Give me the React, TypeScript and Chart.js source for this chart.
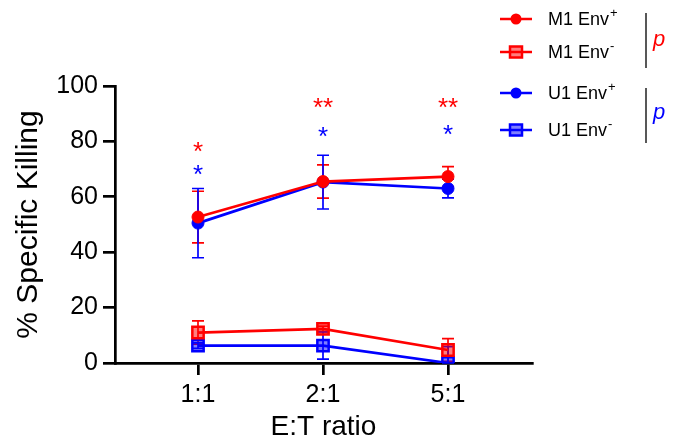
import React, { useEffect, useRef } from "react";
import { Chart, registerables } from "chart.js";
Chart.register(...registerables);

const categories = ["1:1", "2:1", "5:1"];
const m1Pos = [52.7, 65.5, 67.3];
const m1PosErr = [9.3, 6, 3.6];
const m1Neg = [11, 12.3, 4.7];
const m1NegErr = [4.2, 1, 4.1];
const u1Pos = [50.5, 65.3, 63];
const u1PosErr = [12.5, 9.7, 3.4];
const u1Neg = [6.3, 6.3, 0];
const u1NegErr = [1, 4.9, 5.9];
const m1Stars = ["*", "**", "**"];
const m1StarY = [78.7, 94.6, 94.6];
const u1Stars = ["*", "*", "*"];
const u1StarY = [70.4, 84, 85];
const yTicks = [0, 20, 40, 60, 80, 100];

const RED = "#ff0000";
const BLUE = "#0000ff";
const RED_FILL = "rgba(255,0,0,0.5)";
const BLUE_FILL = "rgba(0,0,255,0.5)";
const FONT = "'Liberation Sans', Arial, sans-serif";

export default function App() {
  const ref = useRef<HTMLCanvasElement>(null);
  useEffect(() => {
    const mk = (label: string, vals: number[], err: number[], color: string, square: boolean) => ({
      label,
      data: vals.map((v, i) => ({ x: i, y: v })),
      err,
      borderColor: color,
      backgroundColor: square ? (color === RED ? RED_FILL : BLUE_FILL) : color,
      pointBorderColor: color,
      pointStyle: square ? "rect" : "circle",
      pointRadius: square ? 8 : 6,
      pointBorderWidth: square ? 2.5 : 1,
      borderWidth: 2.7,
      showLine: true,
      tension: 0,
    });
    const errPlugin = {
      id: "err",
      beforeDatasetsDraw(chart: any) {
        const ctx = chart.ctx;
        const xs = chart.scales.x, ys = chart.scales.y;
        chart.data.datasets.forEach((ds: any) => {
          ctx.save();
          ctx.strokeStyle = ds.borderColor;
          ctx.lineWidth = 1.7;
          ds.data.forEach((p: any, i: number) => {
            const x = xs.getPixelForValue(p.x);
            const yt = ys.getPixelForValue(p.y + ds.err[i]);
            const yb = ys.getPixelForValue(Math.max(0, p.y - ds.err[i]));
            ctx.beginPath();
            ctx.moveTo(x, yt); ctx.lineTo(x, yb);
            ctx.moveTo(x - 6, yt); ctx.lineTo(x + 6, yt);
            ctx.moveTo(x - 6, yb); ctx.lineTo(x + 6, yb);
            ctx.stroke();
          });
          ctx.restore();
        });
      },
      afterDraw(chart: any) {
        const ctx = chart.ctx;
        const xs = chart.scales.x, ys = chart.scales.y;
        ctx.save();
        ctx.font = `26px ${FONT}`;
        ctx.textAlign = "center";
        ctx.textBaseline = "alphabetic";
        const drawStars = (arr: string[], ypos: number[], color: string) => {
          ctx.fillStyle = color;
          arr.forEach((s, i) => {
            const x = xs.getPixelForValue(i);
            const y = ys.getPixelForValue(ypos[i]);
            ctx.fillText(s, x, y + 15);
          });
        };
        drawStars(m1Stars, m1StarY, RED);
        drawStars(u1Stars, u1StarY, BLUE);
        // legend
        const items = [
          { t: "M1 Env", s: "+", c: RED, sq: false, y: 19 },
          { t: "M1 Env", s: "-", c: RED, sq: true, y: 52 },
          { t: "U1 Env", s: "+", c: BLUE, sq: false, y: 93 },
          { t: "U1 Env", s: "-", c: BLUE, sq: true, y: 130 },
        ];
        items.forEach((it) => {
          ctx.strokeStyle = it.c;
          ctx.lineWidth = 2.5;
          ctx.beginPath();
          ctx.moveTo(500, it.y); ctx.lineTo(532, it.y);
          ctx.stroke();
          if (it.sq) {
            ctx.fillStyle = it.c === RED ? RED_FILL : BLUE_FILL;
            ctx.fillRect(510, it.y - 5.5, 12, 11);
            ctx.strokeRect(510, it.y - 5.5, 12, 11);
          } else {
            ctx.fillStyle = it.c;
            ctx.beginPath();
            ctx.arc(516, it.y, 5.5, 0, Math.PI * 2);
            ctx.fill();
          }
          ctx.fillStyle = "#000";
          ctx.textAlign = "left";
          ctx.textBaseline = "middle";
          ctx.font = `18px ${FONT}`;
          ctx.fillText(it.t, 548, it.y + 1);
          const w = ctx.measureText(it.t).width;
          ctx.font = `13px ${FONT}`;
          ctx.fillText(it.s, 548 + w + 1, it.y - 6);
        });
        ctx.strokeStyle = "#222";
        ctx.lineWidth = 1.5;
        ctx.beginPath();
        ctx.moveTo(646, 13); ctx.lineTo(646, 68);
        ctx.moveTo(646, 88); ctx.lineTo(646, 143);
        ctx.stroke();
        ctx.font = `italic 22px ${FONT}`;
        ctx.textAlign = "left";
        ctx.textBaseline = "middle";
        ctx.fillStyle = RED;
        ctx.fillText("p", 653, 40);
        ctx.fillStyle = BLUE;
        ctx.fillText("p", 653, 113);
        ctx.restore();
      },
    };
    const chart = new Chart(ref.current!, {
      type: "scatter",
      data: {
        datasets: [
          mk("M1 Env+", m1Pos, m1PosErr, RED, false),
          mk("M1 Env-", m1Neg, m1NegErr, RED, true),
          mk("U1 Env+", u1Pos, u1PosErr, BLUE, false),
          mk("U1 Env-", u1Neg, u1NegErr, BLUE, true),
        ] as any,
      },
      options: {
        animation: false,
        responsive: false,
        devicePixelRatio: 1,
        layout: { padding: { top: 86, right: 146, left: 0, bottom: 0 } },
        plugins: { legend: { display: false }, tooltip: { enabled: false } },
        scales: {
          x: {
            type: "linear",
            min: -0.664,
            max: 2.672,
            afterBuildTicks: (s: any) => { s.ticks = categories.map((_, i) => ({ value: i })); },
            afterFit: (s: any) => { s.height = 442 - 363; },
            ticks: {
              callback: (v: any) => categories[v] ?? "",
              color: "#000",
              font: { family: FONT, size: 25 },
              padding: 5,
              maxRotation: 0,
            },
            grid: { drawOnChartArea: false, drawTicks: true, tickLength: 12, color: "#000", lineWidth: 2.7 },
            border: { display: true, color: "#000", width: 2.7 },
            title: { display: true, text: "E:T ratio", color: "#000", font: { family: FONT, size: 28 }, padding: { top: 0, bottom: -2 } },
          },
          y: {
            min: 0,
            max: 100,
            afterBuildTicks: (s: any) => { s.ticks = yTicks.map((v) => ({ value: v })); },
            afterFit: (s: any) => { s.width = 115; },
            ticks: { color: "#000", font: { family: FONT, size: 25 }, padding: 5 },
            grid: { drawOnChartArea: false, drawTicks: true, tickLength: 12, color: "#000", lineWidth: 2.7 },
            border: { display: true, color: "#000", width: 2.7 },
            title: { display: true, text: "% Specific Killing", color: "#000", font: { family: FONT, size: 30 }, padding: { top: 11, bottom: 0 } },
          },
        },
      } as any,
      plugins: [errPlugin],
    });
    return () => chart.destroy();
  }, []);
  return (
    <div style={{ position: "fixed", left: 0, top: 0, width: 678, height: 442, background: "#fff" }}>
      <canvas ref={ref} width={678} height={442} style={{ width: 678, height: 442 }} />
    </div>
  );
}
